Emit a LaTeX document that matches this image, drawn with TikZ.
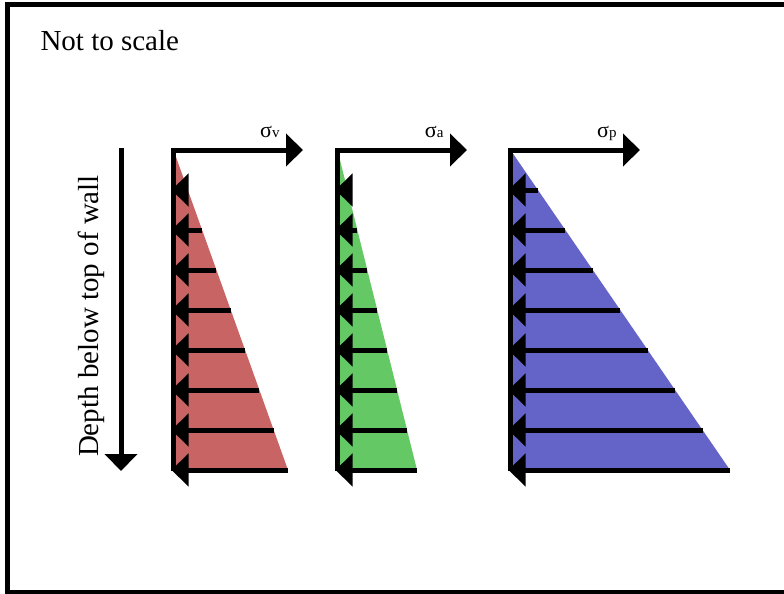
\documentclass[tikz,border=0pt]{standalone}
\usepackage{fontspec}
\setmainfont{Liberation Serif}
\usetikzlibrary{arrows.meta,positioning}

\definecolor{redload}{RGB}{200,100,100}
\definecolor{greenload}{RGB}{100,200,100}
\definecolor{blueload}{RGB}{100,100,200}

\begin{document}
\begin{tikzpicture}[x=0.5pt, y=-0.5pt, >={Triangle[length=8.5pt,width=16pt]}, line width=2.5pt,
  sig/.style={inner sep=0pt, anchor=base east}]
  \useasboundingbox (0,0) rectangle (784,594);
  \clip (0,0) rectangle (784,594);
  \draw (8,4.5) rectangle (820,592);
  \node[anchor=base west, inner sep=0pt, font=\fontsize{14.5}{17}\selectfont] (note) at (38,50) {Not to scale};

  % depth axis
  \coordinate (dtop) at (121,148);
  \coordinate (dbot) at (121,471);
  \draw[->] (dtop) -- (dbot);
  \node[rotate=90, anchor=base, inner sep=0pt, font=\fontsize{14.5}{17}\selectfont] (depth) at (98,316) {Depth below top of wall};

  % the three pressure diagrams
  \foreach \ax/\bx/\tip/\col/\sub in {173.5/288/303/redload/v, 337.5/417/467/greenload/a, 510.5/730/640/blueload/p}{
    \coordinate (top\sub) at (\ax,150);
    \coordinate (toe\sub) at (\ax,471);
    \coordinate (heel\sub) at (\bx,470);
    \coordinate (tip\sub) at (\tip,150);
    \fill[\col] (top\sub) -- (heel\sub) -- (\ax,470) -- cycle;
    \draw[->] (toe\sub) -- (top\sub) -- (tip\sub);
    \node[sig] (sig\sub) at (\tip-21,137) {{\fontsize{11}{11}\selectfont σ}{\fontsize{7.5}{8}\selectfont \sub}};
    \foreach \d [evaluate=\d as \ex using \ax+(\bx-\ax)*\d/8] in {1,...,8}
      \draw[->] (\ex,150+40*\d) -- (\ax-2,150+40*\d);
  }
\end{tikzpicture}
\end{document}
